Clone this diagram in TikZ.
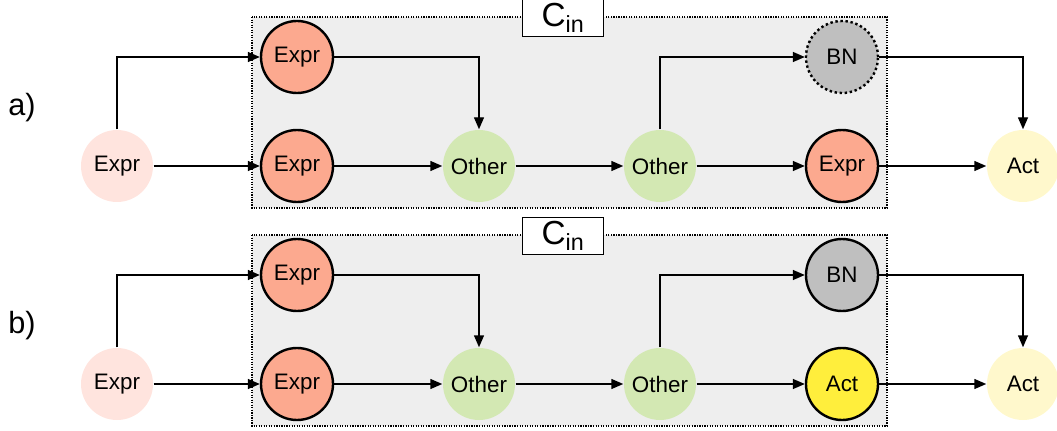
\documentclass[tikz,border=0pt]{standalone}
\usepackage{fontspec}
\setmainfont{Liberation Sans}
\usetikzlibrary{arrows.meta}
\definecolor{exprcol}{HTML}{FCA98F}
\definecolor{exprlt}{HTML}{FFE4DE}
\definecolor{othercol}{HTML}{D3E8B3}
\definecolor{actlt}{HTML}{FFF8CC}
\definecolor{actcol}{HTML}{FFEE3C}
\definecolor{bncol}{HTML}{BFBFBF}
\definecolor{boxcol}{HTML}{EEEEEE}
\begin{document}
\begin{tikzpicture}[x=0.75pt,y=-0.75pt,font=\fontsize{16.8}{19}\selectfont,
  op/.style={circle,minimum size=54pt,inner sep=0pt},
  inop/.style={op,draw,line width=1.8pt},
  >={Triangle[length=9pt,width=7.5pt]},line width=1.1pt]
\useasboundingbox (0,0) rectangle (1057,431);
\foreach \p/\dy/\bn/\lastfill/\lasttext in {a/0/dotted/exprcol/Expr,b/218/solid/actcol/Act}{
\draw[densely dotted,line width=0.9pt,fill=boxcol](252,\dy+17) rectangle (887,\dy+208);
\node[draw,fill=white,line width=0.8pt,minimum width=61pt,minimum height=27.5pt,inner sep=0pt,
  font=\fontsize{25}{27}\selectfont] (\p-cin) at (563,\dy+18) {C\textsubscript{in}};
\node[font=\fontsize{23}{26}\selectfont] (\p-lbl) at (22,\dy+108) {\p)};
\node[op,fill=exprlt] (\p-in) at (117,\dy+166) {Expr};
\node[inop,fill=exprcol] (\p-e1) at (297,\dy+57) {Expr};
\node[inop,fill=exprcol] (\p-e2) at (297,\dy+166) {Expr};
\node[op,fill=othercol] (\p-o1) at (479,\dy+166) {Other};
\node[op,fill=othercol] (\p-o2) at (660,\dy+166) {Other};
\node[inop,fill=bncol,\bn] (\p-bn) at (842,\dy+57) {BN};
\node[inop,fill=\lastfill] (\p-last) at (842,\dy+166) {\lasttext};
\node[op,fill=actlt] (\p-act) at (1023,\dy+166) {Act};
\draw[->](\p-in)|-(\p-e1);
\draw[->](\p-in)--(\p-e2);
\draw[->](\p-e1)-|(\p-o1);
\draw[->](\p-e2)--(\p-o1);
\draw[->](\p-o1)--(\p-o2);
\draw[->](\p-o2)|-(\p-bn);
\draw[->](\p-o2)--(\p-last);
\draw[->](\p-bn)-|(\p-act);
\draw[->](\p-last)--(\p-act);
}
\end{tikzpicture}
\end{document}
